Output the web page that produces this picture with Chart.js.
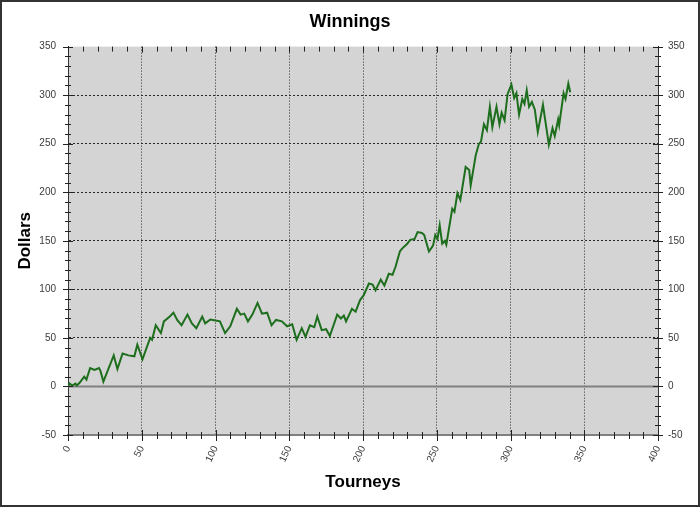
<!DOCTYPE html>
<html>
<head>
<meta charset="utf-8">
<script src="https://cdn.jsdelivr.net/npm/chart.js@4"></script>
<style>
html,body{margin:0;padding:0;background:#fff;}
canvas{display:block;}
</style>
</head>
<body>
<canvas id="c" width="700" height="507"></canvas>
<script>
// ---- data ----
const tourneys = [0,1,3,5,6,8,11,12.5,15,18,21,22,24,31,33.5,37,41,45,47,50.5,55.7,57,59.5,63,65,69,71.5,74,77,81,84,87,91,93,96.5,100,103,106.5,110,114.5,117,119.5,122,125,128.5,131.5,135,138,141,145,148.5,152,155,158.5,161,164,167,169,172,175,177.5,182.5,185,187,188.5,192.5,195,198,200.5,204,206.5,208.5,212,214.5,217.5,220,222,225,226.5,230,232,235,237,240,241.5,244.7,247.5,249,250.5,252,253.7,255.5,256.5,260.5,262,264,266,269.6,272,273,276.4,278.6,280,282,284,286,287.7,290.5,292.5,294,296,298,300.6,302.5,304,305.8,308,309.5,311,312.6,314.5,316.5,318.5,322,326,328.5,330,332.3,333,336,337.3,339.2,340.5];
const dollars  = [0,3,1,3,1,4,10,7,19,17,19,16,5,32,18,34,32,31,43,28,50,48,63,55,67,72,76,68.5,63,74,65,60,72,65,69,68,67,55,62,80,74,75,67,74,86,75,76,63,68.5,67,62,64,48,60,51,63,61,72,58,59,52,74,70,73,67,80,77,89,94,106,105,99,110,104,116,115,123,139,142,147,151,152,159,158,156,139,145,156,152,166,147,150,146,183,180,199,192,226,223,207,238,250,252,270,264,288,267,288,270,282,274,301,311,297,302,280,296,291,305,288,293,285,262,290,249,266,258,275,269,302,296,312,303];
const xRange = [0, 400];
const yRange = [-50, 350];
const majorStep = 50;
const minorStep = 10;
const titleText = 'Winnings';
const xTitle = 'Tourneys';
const yTitle = 'Dollars';

const FONT = "'Liberation Sans', Arial, Helvetica, sans-serif";
Chart.defaults.font.family = FONT;

const points = tourneys.map((t, i) => ({x: t, y: dollars[i]}));

const isMajor = v => Math.abs(v % majorStep) < 1e-9;

const decorPlugin = {
  id: 'decor',
  beforeDraw(chart) {
    const {ctx, chartArea: a} = chart;
    ctx.save();
    ctx.fillStyle = '#fff';
    ctx.fillRect(0, 0, chart.width, chart.height);
    ctx.fillStyle = '#d4d4d4';
    ctx.fillRect(a.left, a.top, a.right - a.left, a.bottom - a.top);
    ctx.restore();
  },
  beforeDatasetsDraw(chart) {
    const {ctx, chartArea: a} = chart;
    const y0 = chart.scales.y.getPixelForValue(0);
    ctx.save();
    ctx.strokeStyle = '#808080';
    ctx.lineWidth = 2;
    ctx.beginPath();
    ctx.moveTo(a.left, y0);
    ctx.lineTo(a.right, y0);
    ctx.stroke();
    ctx.restore();
  },
  afterDraw(chart) {
    const {ctx, chartArea: a} = chart;
    const xs = chart.scales.x, ys = chart.scales.y;
    ctx.save();
    ctx.strokeStyle = '#222';
    ctx.lineWidth = 1;
    ctx.beginPath();
    for (let v = yRange[0]; v <= yRange[1]; v += minorStep) {
      const p = Math.round(ys.getPixelForValue(v)) + 0.5;
      const L = isMajor(v) ? 5 : 3;
      ctx.moveTo(a.left - L, p); ctx.lineTo(a.left + L, p);
      ctx.moveTo(a.right - L, p); ctx.lineTo(a.right + L, p);
    }
    for (let v = xRange[0]; v <= xRange[1]; v += minorStep) {
      const p = Math.round(xs.getPixelForValue(v)) + 0.5;
      const L = isMajor(v) ? 6 : 4;
      ctx.moveTo(p, a.bottom - L + 1); ctx.lineTo(p, a.bottom + L);
      ctx.moveTo(p, a.top); ctx.lineTo(p, a.top + (isMajor(v) ? 6 : 5));
    }
    ctx.stroke();
    // outer frame
    ctx.strokeStyle = '#333';
    ctx.lineWidth = 2;
    ctx.strokeRect(1, 1, chart.width - 2, chart.height - 2);
    ctx.restore();
  }
};

const tickFont = {size: 10};
const tickColor = '#3a3a3a';

new Chart(document.getElementById('c'), {
  type: 'line',
  data: {
    datasets: [{
      data: points,
      borderColor: '#1d6e1d',
      borderWidth: 2,
      pointRadius: 0,
      tension: 0,
      fill: false
    }]
  },
  options: {
    responsive: false,
    animation: false,
    devicePixelRatio: 1,
    layout: {padding: 0},
    plugins: {
      legend: {display: false},
      tooltip: {enabled: false},
      title: {
        display: true, text: titleText, color: '#000',
        font: {size: 18, weight: 'bold'},
        padding: {top: 11, bottom: 14}
      }
    },
    scales: {
      x: {
        type: 'linear', position: 'bottom',
        min: xRange[0], max: xRange[1],
        afterFit(s) { s.height = 72; },
        ticks: {
          stepSize: minorStep, autoSkip: false,
          minRotation: 65, maxRotation: 65,
          padding: 9, color: tickColor, font: tickFont,
          callback: v => isMajor(v) ? String(v) : ''
        },
        grid: {
          drawTicks: false,
          color: c => (c.tick && isMajor(c.tick.value) && c.tick.value > xRange[0] && c.tick.value < xRange[1]) ? '#2a2a2a' : 'rgba(0,0,0,0)',
          lineWidth: 1
        },
        border: {display: true, color: '#808080', width: 2, dash: [1, 2]},
        title: {display: true, text: xTitle, color: '#000', font: {size: 17, weight: 'bold'}, padding: {top: 0, bottom: 14}}
      },
      y: {
        type: 'linear', position: 'left',
        min: yRange[0], max: yRange[1],
        afterFit(s) { s.width = 68; },
        ticks: {
          stepSize: minorStep, autoSkip: false,
          padding: 12, color: tickColor, font: tickFont,
          callback: v => isMajor(v) ? String(v) : ''
        },
        grid: {
          drawTicks: false,
          color: c => (c.tick && isMajor(c.tick.value) && c.tick.value !== 0 && c.tick.value > yRange[0] && c.tick.value < yRange[1]) ? '#2a2a2a' : 'rgba(0,0,0,0)',
          lineWidth: 1
        },
        border: {display: true, color: '#333', width: 1, dash: [2, 2]},
        title: {display: true, text: yTitle, color: '#000', font: {size: 17, weight: 'bold'}, padding: {top: 15, bottom: 0}}
      },
      y2: {
        type: 'linear', position: 'right',
        min: yRange[0], max: yRange[1],
        afterFit(s) { s.width = 42; },
        ticks: {
          stepSize: minorStep, autoSkip: false,
          padding: 10, color: tickColor, font: tickFont,
          callback: v => isMajor(v) ? String(v) : ''
        },
        grid: {drawOnChartArea: false, drawTicks: false},
        border: {display: true, color: '#333', width: 1}
      }
    }
  },
  plugins: [decorPlugin]
});
</script>
</body>
</html>
